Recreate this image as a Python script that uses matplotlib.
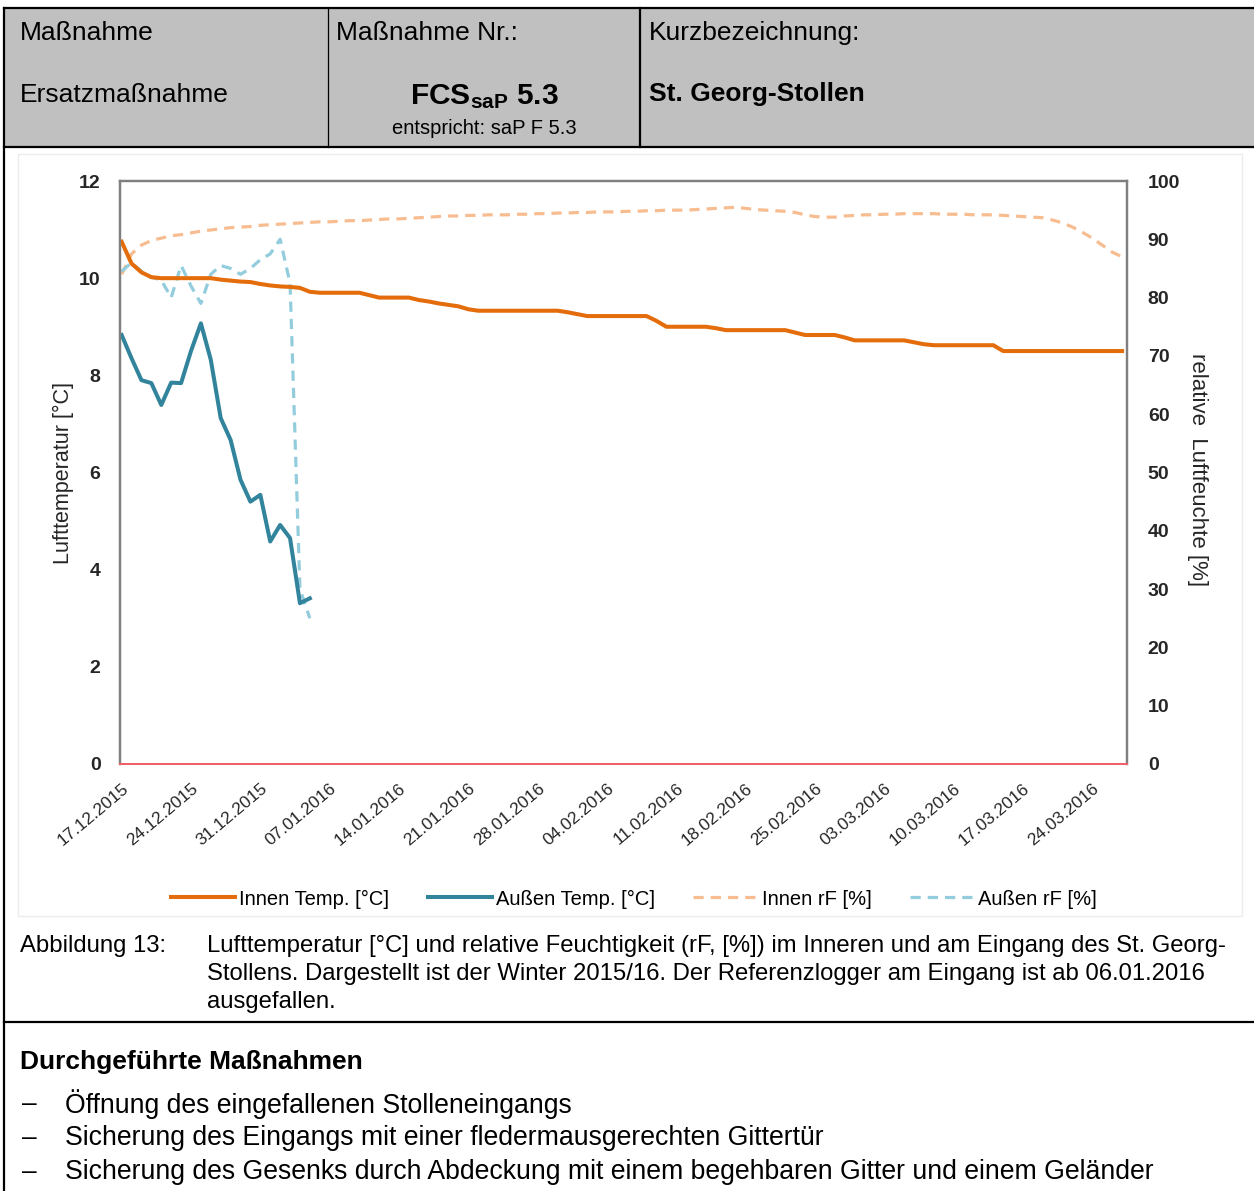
import matplotlib
matplotlib.use("Agg")
import matplotlib.pyplot as plt
import pandas as pd
from matplotlib.patches import Rectangle

plt.rcParams['font.family'] = ['Liberation Sans', 'DejaVu Sans']
plt.rcParams['mathtext.fontset'] = 'custom'
plt.rcParams['mathtext.rm'] = 'Liberation Sans'
plt.rcParams['mathtext.bf'] = 'Liberation Sans:bold'

# daily values, first day 17.12.2015
start_date = '2015-12-17'
innen_temp = [10.75, 10.3, 10.12, 10.02, 10.0, 10.0, 10.0, 10.0, 10.0, 10.0,
              9.97, 9.95, 9.93, 9.92, 9.88, 9.85, 9.83, 9.82, 9.8, 9.72,
              9.7, 9.7, 9.7, 9.7, 9.7, 9.65, 9.6, 9.6, 9.6, 9.6,
              9.55, 9.52, 9.48, 9.45, 9.42, 9.36, 9.33, 9.33, 9.33, 9.33,
              9.33, 9.33, 9.33, 9.33, 9.33, 9.3, 9.26, 9.22, 9.22, 9.22,
              9.22, 9.22, 9.22, 9.22, 9.12, 9.0, 9.0, 9.0, 9.0, 9.0,
              8.97, 8.93, 8.93, 8.93, 8.93, 8.93, 8.93, 8.93, 8.88, 8.83,
              8.83, 8.83, 8.83, 8.78, 8.72, 8.72, 8.72, 8.72, 8.72, 8.72,
              8.68, 8.64, 8.62, 8.62, 8.62, 8.62, 8.62, 8.62, 8.62, 8.5,
              8.5, 8.5, 8.5, 8.5, 8.5, 8.5, 8.5, 8.5, 8.5, 8.5,
              8.5, 8.5]
innen_rf = [84.0, 87.5, 89.0, 89.8, 90.2, 90.6, 90.8, 91.1, 91.4, 91.6,
            91.8, 92.0, 92.1, 92.2, 92.4, 92.5, 92.6, 92.7, 92.8, 92.9,
            93.0, 93.0, 93.1, 93.2, 93.2, 93.3, 93.4, 93.5, 93.5, 93.6,
            93.7, 93.8, 93.9, 94.0, 94.0, 94.1, 94.1, 94.2, 94.2, 94.2,
            94.3, 94.3, 94.4, 94.4, 94.5, 94.5, 94.6, 94.6, 94.7, 94.7,
            94.7, 94.8, 94.8, 94.9, 94.9, 95.0, 95.0, 95.0, 95.1, 95.2,
            95.3, 95.4, 95.5, 95.3, 95.1, 95.0, 94.9, 94.8, 94.6, 94.2,
            93.9, 93.8, 93.8, 94.0, 94.1, 94.2, 94.2, 94.3, 94.3, 94.4,
            94.4, 94.4, 94.4, 94.3, 94.3, 94.3, 94.2, 94.2, 94.2, 94.1,
            94.0, 93.9, 93.8, 93.7, 93.3, 92.8, 92.1, 91.2, 90.2, 89.0,
            87.8, 87.0]
aussen_temp = [8.83, 8.35, 7.9, 7.84, 7.39, 7.85, 7.84, 8.5, 9.07, 8.32,
               7.12, 6.67, 5.85, 5.4, 5.54, 4.58, 4.92, 4.65, 3.31, 3.41]
aussen_rf = [84.5, 86.0, 84.5, 83.5, 83.0, 80.0, 85.5, 82.0, 79.0, 84.0,
             85.5, 85.0, 84.0, 85.0, 86.5, 87.5, 90.0, 82.5, 30.0, 25.0]
tick_labels = ['17.12.2015', '24.12.2015', '31.12.2015', '07.01.2016', '14.01.2016',
               '21.01.2016', '28.01.2016', '04.02.2016', '11.02.2016', '18.02.2016',
               '25.02.2016', '03.03.2016', '10.03.2016', '17.03.2016', '24.03.2016']
legend_labels = ['Innen Temp. [°C]', 'Außen Temp. [°C]', 'Innen rF [%]', 'Außen rF [%]']

dates = pd.date_range(start_date, periods=len(innen_temp), freq='D')
tick_pos = pd.to_datetime(tick_labels, format='%d.%m.%Y')

W, H = 1254, 1191
fig = plt.figure(figsize=(W / 100, H / 100), dpi=100)

# page (table frame + text) in pixel coordinates
page = fig.add_axes([0, 0, 1, 1])
page.set_xlim(0, W)
page.set_ylim(H, 0)
page.axis('off')
page.add_patch(Rectangle((4, 8), W, 139, facecolor='#c0c0c0', edgecolor='none'))
page.plot([4, W], [8, 8], color='black', lw=1.6)
page.plot([4, W], [147, 147], color='black', lw=1.6)
page.plot([4, 4], [8, H], color='black', lw=1.6)
page.plot([328, 328], [8, 147], color='black', lw=0.9)
page.plot([640, 640], [8, 147], color='black', lw=1.6)
page.plot([4, W], [1022, 1022], color='black', lw=1.6)
page.add_patch(Rectangle((18, 154), 1224, 762, facecolor='none', edgecolor='#ececec', lw=1))

fs = 19
page.text(20, 33, 'Maßnahme', fontsize=fs, va='center')
page.text(20, 95, 'Ersatzmaßnahme', fontsize=fs, va='center')
page.text(336, 33, 'Maßnahme Nr.:', fontsize=fs, va='center')
page.text(484, 97, r'$\mathbf{FCS_{saP}}$ $\mathbf{5.3}$', fontsize=21.5, ha='center', va='center')
page.text(484, 128, 'entspricht: saP F 5.3', fontsize=14.5, ha='center', va='center')
page.text(649, 33, 'Kurzbezeichnung:', fontsize=fs, va='center')
page.text(649, 94, 'St. Georg-Stollen', fontsize=fs, fontweight='bold', va='center')

cap = 17.2
page.text(20, 946, 'Abbildung 13:', fontsize=cap, va='center')
page.text(207, 946, 'Lufttemperatur [°C] und relative Feuchtigkeit (rF, [%]) im Inneren und am Eingang des St. Georg-',
          fontsize=cap, va='center')
page.text(207, 974, 'Stollens. Dargestellt ist der Winter 2015/16. Der Referenzlogger am Eingang ist ab 06.01.2016',
          fontsize=cap, va='center')
page.text(207, 1002, 'ausgefallen.', fontsize=cap, va='center')

page.text(20, 1062, 'Durchgeführte Maßnahmen', fontsize=fs, fontweight='bold', va='center')
bullets = ['Öffnung des eingefallenen Stolleneingangs',
           'Sicherung des Eingangs mit einer fledermausgerechten Gittertür',
           'Sicherung des Gesenks durch Abdeckung mit einem begehbaren Gitter und einem Geländer']
for i, b in enumerate(bullets):
    y = 1104 + i * 34
    page.text(22, y, '–', fontsize=fs, va='center')
    page.text(65, y, b, fontsize=19.2, va='center')

# chart
left, right, top, bottom = 120, 1127, 181, 764
ax = fig.add_axes([left / W, 1 - bottom / H, (right - left) / W, (bottom - top) / H])
ax2 = ax.twinx()
ax.set_zorder(ax2.get_zorder() + 1)
ax.patch.set_visible(False)

c_it, c_at, c_ir, c_ar = '#e46c0a', '#31849b', '#f7bd91', '#93cddd'
l3, = ax2.plot(dates, innen_rf, color=c_ir, lw=2.3, linestyle=(0, (3.2, 2.2)))
l4, = ax2.plot(dates[:len(aussen_rf)], aussen_rf, color=c_ar, lw=2.3, linestyle=(0, (3.2, 2.2)))
l1, = ax.plot(dates, innen_temp, color=c_it, lw=2.9)
l2, = ax.plot(dates[:len(aussen_temp)], aussen_temp, color=c_at, lw=2.9)

ax.set_ylim(0, 12)
ax.set_yticks(range(0, 13, 2))
ax2.set_ylim(0, 100)
ax2.set_yticks(range(0, 101, 10))
ax.set_xlim(dates[0] - pd.Timedelta(hours=4), dates[-1] + pd.Timedelta(hours=12))
ax.set_xticks(tick_pos)
ax.set_xticklabels(tick_labels, rotation=40, ha='right', rotation_mode='anchor',
                   fontsize=12.5, color='#262626')
ax.tick_params(axis='x', length=0, pad=12)
ax.tick_params(axis='y', length=0, pad=14, labelsize=14, labelcolor='#262626')
ax2.tick_params(axis='y', length=0, pad=15, labelsize=14, labelcolor='#262626')
for lab in ax.get_yticklabels() + ax2.get_yticklabels():
    lab.set_fontweight('bold')

for a in (ax, ax2):
    for s in ('left', 'top', 'right'):
        a.spines[s].set_color('#7f7f7f')
        a.spines[s].set_linewidth(1.6)
    a.spines['bottom'].set_color('#f0606a')
    a.spines['bottom'].set_linewidth(1.4)

ax.set_ylabel('Lufttemperatur [°C]', fontsize=15.5, color='#262626', va='center')
ax.yaxis.set_label_coords(-0.056, 0.5)
ax2.set_ylabel('relative  Luftfeuchte [%]', fontsize=16, color='#262626', rotation=-90, va='center')
ax2.yaxis.set_label_coords(1.07, 0.505)

fig.legend([l1, l2, l3, l4], legend_labels, loc='center', bbox_to_anchor=(634 / W, 1 - 899 / H),
           ncol=4, frameon=False, fontsize=14.5, handlelength=3.2, handletextpad=0.2,
           columnspacing=1.9)

fig.savefig('out.png', dpi=100, facecolor='white')
